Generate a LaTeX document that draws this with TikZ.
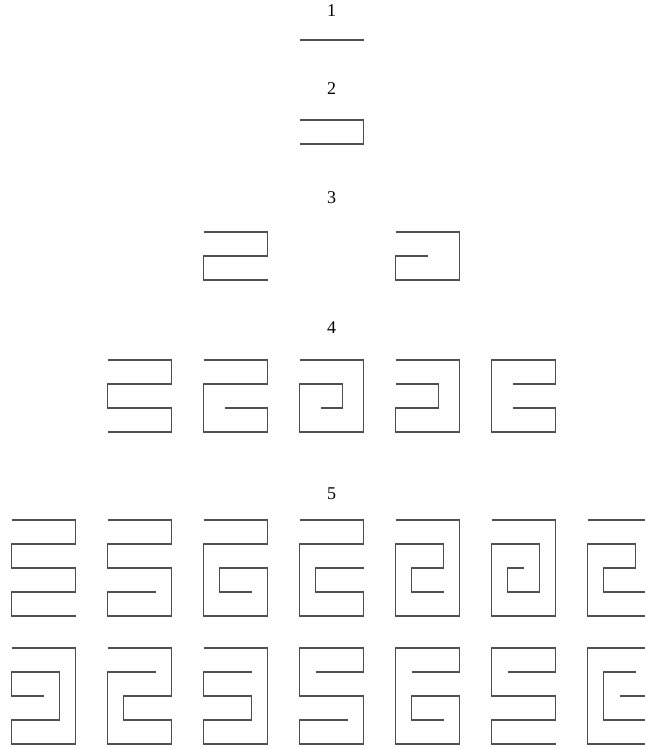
\documentclass[tikz,border=0pt]{standalone}
\usepackage{fontspec}
\setmainfont{Liberation Serif}
\definecolor{meandercol}{RGB}{80,80,80}
\tikzset{
  meander/.style={draw=meandercol, line width=1.3pt, line join=miter},
  lvl/.style={font=\fontsize{18}{21}\selectfont, inner sep=0pt, anchor=center}
}
% \mshape{x0}{y0}{path}
\newcommand{\mshape}[3]{%
  \begin{scope}[shift={(#1pt,-#2pt)}, x=64pt, y=-24pt]
    \draw[meander] #3;
  \end{scope}}
\begin{document}
\begin{tikzpicture}[x=1pt,y=1pt]
\useasboundingbox (0,0) rectangle (645,-748);
% labels
\node[lvl] (l1) at (331.7,-11) {1};
\node[lvl] (l2) at (331.7,-89) {2};
\node[lvl] (l3) at (331.7,-198) {3};
\node[lvl] (l4) at (331.7,-328) {4};
\node[lvl] (l5) at (331.7,-494) {5};
% level 1
\mshape{299.7}{40}{(0,0)--(1,0)}
% level 2
\mshape{299.7}{120}{(0,0)--(1,0)--(1,1)--(0,1)}
% level 3
\mshape{203.7}{232}{(0,0)--(1,0)--(1,1)--(0,1)--(0,2)--(1,2)}
\mshape{395.7}{232}{(0,0)--(1,0)--(1,2)--(0,2)--(0,1)--(.5,1)}
% level 4
\mshape{107.7}{360}{(0,0)--(1,0)--(1,1)--(0,1)--(0,2)--(1,2)--(1,3)--(0,3)}
\mshape{203.7}{360}{(0,0)--(1,0)--(1,1)--(0,1)--(0,3)--(1,3)--(1,2)--(1/3,2)}
\mshape{299.7}{360}{(0,0)--(1,0)--(1,3)--(0,3)--(0,1)--(2/3,1)--(2/3,2)--(1/3,2)}
\mshape{395.7}{360}{(0,0)--(1,0)--(1,3)--(0,3)--(0,2)--(2/3,2)--(2/3,1)--(0,1)}
\mshape{491.7}{360}{(1/3,1)--(1,1)--(1,0)--(0,0)--(0,3)--(1,3)--(1,2)--(1/3,2)}
% level 5, first row
\mshape{11.7}{520}{(0,0)--(1,0)--(1,1)--(0,1)--(0,2)--(1,2)--(1,3)--(0,3)--(0,4)--(1,4)}
\mshape{107.7}{520}{(0,0)--(1,0)--(1,1)--(0,1)--(0,2)--(1,2)--(1,4)--(0,4)--(0,3)--(.75,3)}
\mshape{203.7}{520}{(0,0)--(1,0)--(1,1)--(0,1)--(0,4)--(1,4)--(1,2)--(.25,2)--(.25,3)--(.75,3)}
\mshape{299.7}{520}{(0,0)--(1,0)--(1,1)--(0,1)--(0,4)--(1,4)--(1,3)--(.25,3)--(.25,2)--(1,2)}
\mshape{395.7}{520}{(0,0)--(1,0)--(1,4)--(0,4)--(0,1)--(.75,1)--(.75,2)--(.25,2)--(.25,3)--(.75,3)}
\mshape{491.7}{520}{(0,0)--(1,0)--(1,4)--(0,4)--(0,1)--(.75,1)--(.75,3)--(.25,3)--(.25,2)--(.5,2)}
\mshape{587.7}{520}{(0,0)--(1,0)--(1,3)--(.25,3)--(.25,2)--(.75,2)--(.75,1)--(0,1)--(0,4)--(1,4)}
% level 5, second row
\mshape{11.7}{648}{(0,0)--(1,0)--(1,4)--(0,4)--(0,3)--(.75,3)--(.75,1)--(0,1)--(0,2)--(.5,2)}
\mshape{107.7}{648}{(0,0)--(1,0)--(1,2)--(.25,2)--(.25,3)--(1,3)--(1,4)--(0,4)--(0,1)--(.75,1)}
\mshape{203.7}{648}{(0,0)--(1,0)--(1,4)--(0,4)--(0,3)--(.75,3)--(.75,2)--(0,2)--(0,1)--(.75,1)}
\mshape{299.7}{648}{(.25,1)--(1,1)--(1,0)--(0,0)--(0,2)--(1,2)--(1,4)--(0,4)--(0,3)--(.75,3)}
\mshape{395.7}{648}{(.25,1)--(1,1)--(1,0)--(0,0)--(0,4)--(1,4)--(1,2)--(.25,2)--(.25,3)--(.75,3)}
\mshape{491.7}{648}{(.25,1)--(1,1)--(1,0)--(0,0)--(0,2)--(1,2)--(1,3)--(0,3)--(0,4)--(1,4)}
\mshape{587.7}{648}{(.5,2)--(1,2)--(1,0)--(0,0)--(0,4)--(1,4)--(1,3)--(.25,3)--(.25,1)--(.75,1)}
\end{tikzpicture}
\end{document}
